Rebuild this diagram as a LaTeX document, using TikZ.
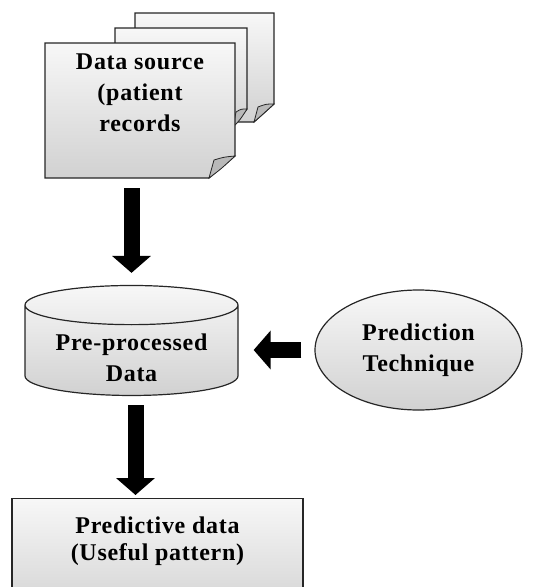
\documentclass[tikz,border=0pt]{standalone}
\usepackage{fontspec}
\setmainfont{Liberation Serif}
\newfontfamily\diagfont[LetterSpace=3]{Liberation Serif}
\usetikzlibrary{arrows.meta,shapes.geometric}

\tikzset{
  boxline/.style={draw=black!85,line width=1.2pt},
  paper/.style={boxline,top color=gray!6,bottom color=gray!36},
  curl/.style={draw=black!85,line width=0.8pt,fill=gray!55},
  txt/.style={font=\diagfont\bfseries\fontsize{24}{31}\selectfont,align=center},
  bigarrow/.style={line width=16pt,-{Triangle[width=38pt,length=17pt]}}
}

\begin{document}
\begin{tikzpicture}[x=1pt,y=-1pt]
                \useasboundingbox (0,0) rectangle (540,587);
                \clip (0,0) rectangle (540,587);
                % stack of records
                \draw[paper] (135,13) -- (274,13) -- (274,104) -- (254,122) -- (135,122) -- cycle;
                \draw[curl] (274,104) .. controls (266,104) .. (258,107) -- (254,122) .. controls (262,115) .. (274,104) -- cycle;
                \draw[paper] (115,28) -- (247,28) -- (247,109) -- (233,127) -- (115,127) -- cycle;
                \draw[curl] (247,109) .. controls (241,109) .. (236,112) -- (233,127) .. controls (240,120) .. (247,109) -- cycle;
                \draw[paper] (45,43) -- (235,43) -- (235,156) -- (209,178) -- (45,178) -- cycle;
                \draw[curl] (235,156) .. controls (224,157) .. (214,160) -- (209,178) .. controls (221,169) .. (235,156) -- cycle;
                \node[minimum width=190pt,minimum height=135pt] (sheet) at (140,110.5) {};
                \node[txt] (source) at (140,93) {Data source\\(patient\\records};
                % stores and steps
                \node[cylinder,shape border rotate=90,aspect=0.25,paper,text width=150pt,minimum width=213pt,minimum height=110pt] (prep) at (131.5,353) {};
                \node[txt] (preptext) at (131.5,358) {Pre-processed\\Data};
                \node[ellipse,paper,minimum width=207pt,minimum height=120pt,txt] (tech) at (418.5,350) {Prediction\\Technique};
                \node[paper,minimum width=291pt,minimum height=120pt,anchor=north] (result) at (157.5,498) {};
                \node[txt,font=\diagfont\bfseries\fontsize{24}{27}\selectfont] (pattern) at ([yshift=-43pt]result.north) {Predictive data\\(Useful pattern)};
                \draw[bigarrow,shorten <=10pt,shorten >=12pt] (sheet.south -| prep.north) -- (prep.north);
                \draw[bigarrow,shorten <=13pt,shorten >=15pt] (tech.west) -- (tech.west -| prep.east);
                \draw[bigarrow,shorten <=9pt,shorten >=3pt] ([xshift=4pt]prep.south) -- ([xshift=4pt]prep.south |- result.north);
            \end{tikzpicture}
\end{document}
